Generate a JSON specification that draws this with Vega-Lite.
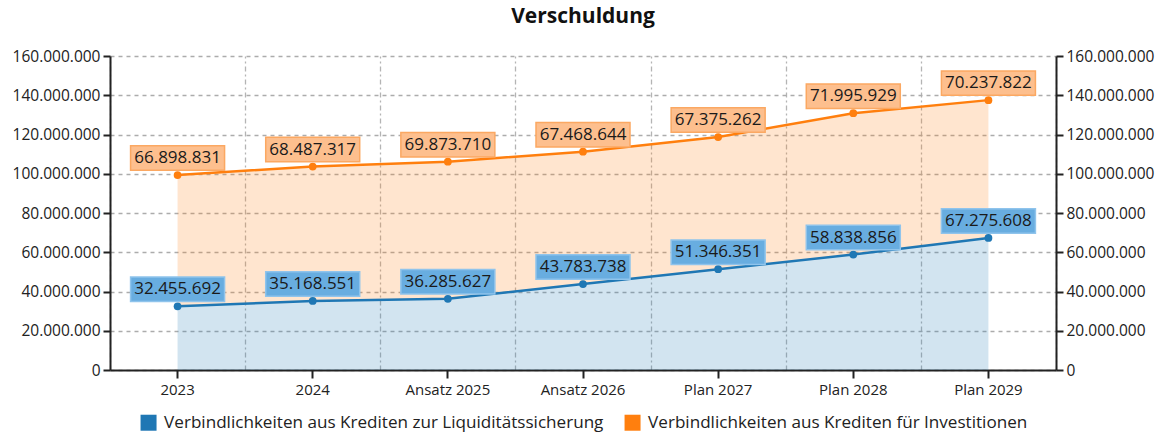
{
  "$schema": "https://vega.github.io/schema/vega-lite/v6.json",
  "width": 946,
  "height": 314,
  "autosize": "none",
  "padding": {"left": 110, "top": 56, "right": 105, "bottom": 62},
  "title": {"text": "Verschuldung", "fontSize": 21, "fontWeight": "bold", "font": "Open Sans", "color": "#111111", "offset": 22, "anchor": "middle"},
  "config": {
    "locale": {"number": {"decimal": ",", "thousands": ".", "grouping": [3], "currency": ["", " €"]}},
    "view": {"stroke": null},
    "font": "Open Sans",
    "axis": {"labelFont": "Open Sans", "labelFontSize": 15.5, "labelColor": "#222222", "domainColor": "#222222", "domainWidth": 2, "tickColor": "#222222", "tickWidth": 2, "tickSize": 7, "gridColor": "#acacac", "gridWidth": 1.3, "gridDash": [4, 4]},
    "legend": {"labelFont": "Open Sans", "labelFontSize": 17.1, "labelColor": "#222222", "labelLimit": 700, "symbolType": "square", "symbolSize": 256, "symbolOpacity": 1, "symbolStrokeWidth": 0, "columnPadding": 20, "labelOffset": 7, "padding": 0}
  },
  "data": {"values": [
    {"year": "2023", "series": "Verbindlichkeiten aus Krediten zur Liquiditätssicherung", "idx": 0, "value": 32455692},
    {"year": "2024", "series": "Verbindlichkeiten aus Krediten zur Liquiditätssicherung", "idx": 0, "value": 35168551},
    {"year": "Ansatz 2025", "series": "Verbindlichkeiten aus Krediten zur Liquiditätssicherung", "idx": 0, "value": 36285627},
    {"year": "Ansatz 2026", "series": "Verbindlichkeiten aus Krediten zur Liquiditätssicherung", "idx": 0, "value": 43783738},
    {"year": "Plan 2027", "series": "Verbindlichkeiten aus Krediten zur Liquiditätssicherung", "idx": 0, "value": 51346351},
    {"year": "Plan 2028", "series": "Verbindlichkeiten aus Krediten zur Liquiditätssicherung", "idx": 0, "value": 58838856},
    {"year": "Plan 2029", "series": "Verbindlichkeiten aus Krediten zur Liquiditätssicherung", "idx": 0, "value": 67275608},
    {"year": "2023", "series": "Verbindlichkeiten aus Krediten für Investitionen", "idx": 1, "value": 66898831},
    {"year": "2024", "series": "Verbindlichkeiten aus Krediten für Investitionen", "idx": 1, "value": 68487317},
    {"year": "Ansatz 2025", "series": "Verbindlichkeiten aus Krediten für Investitionen", "idx": 1, "value": 69873710},
    {"year": "Ansatz 2026", "series": "Verbindlichkeiten aus Krediten für Investitionen", "idx": 1, "value": 67468644},
    {"year": "Plan 2027", "series": "Verbindlichkeiten aus Krediten für Investitionen", "idx": 1, "value": 67375262},
    {"year": "Plan 2028", "series": "Verbindlichkeiten aus Krediten für Investitionen", "idx": 1, "value": 71995929},
    {"year": "Plan 2029", "series": "Verbindlichkeiten aus Krediten für Investitionen", "idx": 1, "value": 70237822}
  ]},
  "transform": [
    {"stack": "value", "groupby": ["year"], "sort": [{"field": "idx", "order": "ascending"}], "as": ["y0", "y1"]}
  ],
  "resolve": {"axis": {"x": "independent", "y": "independent"}},
  "layer": [
    {
      "mark": {"type": "area", "fillOpacity": 0.2, "line": false},
      "encoding": {
        "x": {"field": "year", "type": "ordinal", "sort": null, "bandPosition": 0.5,
              "scale": {"type": "band", "paddingInner": 0, "paddingOuter": 0},
              "axis": {"title": null, "labelAngle": 0, "grid": false, "labelPadding": 4, "tickSize": 8, "labelFontSize": 15}},
        "y": {"field": "y1", "type": "quantitative",
              "scale": {"domain": [0, 160000000], "nice": false},
              "axis": {"title": null, "orient": "left", "values": [0, 20000000, 40000000, 60000000, 80000000, 100000000, 120000000, 140000000, 160000000], "format": ",.0f", "grid": true, "labelPadding": 3}},
        "y2": {"field": "y0"},
        "color": {"field": "series", "type": "nominal", "sort": ["Verbindlichkeiten aus Krediten zur Liquiditätssicherung", "Verbindlichkeiten aus Krediten für Investitionen"],
                  "scale": {"domain": ["Verbindlichkeiten aus Krediten zur Liquiditätssicherung", "Verbindlichkeiten aus Krediten für Investitionen"], "range": ["#1f77b4", "#ff7f0e"]},
                  "legend": {"title": null, "orient": "none", "direction": "horizontal", "legendX": 30, "legendY": 358}}
      }
    },
    {
      "mark": {"type": "line", "strokeWidth": 2.5},
      "encoding": {
        "x": {"field": "year", "type": "ordinal", "sort": null, "bandPosition": 0.5,
              "axis": {"title": null, "grid": true, "tickBand": "extent", "labels": false, "ticks": false, "domain": false, "gridDash": [5, 3, 2, 3], "gridColor": "#b4b4b4"}},
        "y": {"field": "y1", "type": "quantitative",
              "axis": {"title": null, "orient": "right", "values": [0, 20000000, 40000000, 60000000, 80000000, 100000000, 120000000, 140000000, 160000000], "format": ",.0f", "grid": false, "labelPadding": 3}},
        "color": {"field": "series", "type": "nominal", "legend": null}
      }
    },
    {
      "mark": {"type": "point", "filled": true, "size": 60, "opacity": 1},
      "encoding": {
        "x": {"field": "year", "type": "ordinal", "sort": null, "bandPosition": 0.5, "axis": null},
        "y": {"field": "y1", "type": "quantitative", "axis": null},
        "color": {"field": "series", "type": "nominal", "legend": null}
      }
    },
    {
      "mark": {"type": "point", "shape": "M-1,-0.26L1,-0.26L1,0.26L-1,0.26Z", "size": 8836, "filled": false, "opacity": 1, "fillOpacity": 1, "strokeWidth": 1.5, "yOffset": -17},
      "encoding": {
        "x": {"field": "year", "type": "ordinal", "sort": null, "bandPosition": 0.5, "axis": null},
        "y": {"field": "y1", "type": "quantitative", "axis": null},
        "fill": {"field": "series", "type": "nominal", "legend": null,
                 "scale": {"domain": ["Verbindlichkeiten aus Krediten zur Liquiditätssicherung", "Verbindlichkeiten aus Krediten für Investitionen"], "range": ["#68ade0", "#fdbf8e"]}},
        "stroke": {"field": "series", "type": "nominal", "legend": null,
                   "scale": {"domain": ["Verbindlichkeiten aus Krediten zur Liquiditätssicherung", "Verbindlichkeiten aus Krediten für Investitionen"], "range": ["#8fc4ec", "#fba862"]}}
      }
    },
    {
      "mark": {"type": "text", "fontSize": 17, "color": "#1a1a1a", "baseline": "middle", "align": "center", "yOffset": -17, "font": "Open Sans"},
      "encoding": {
        "x": {"field": "year", "type": "ordinal", "sort": null, "bandPosition": 0.5, "axis": null},
        "y": {"field": "y1", "type": "quantitative", "axis": null},
        "text": {"field": "value", "type": "quantitative", "format": ",.0f"}
      }
    }
  ]
}
